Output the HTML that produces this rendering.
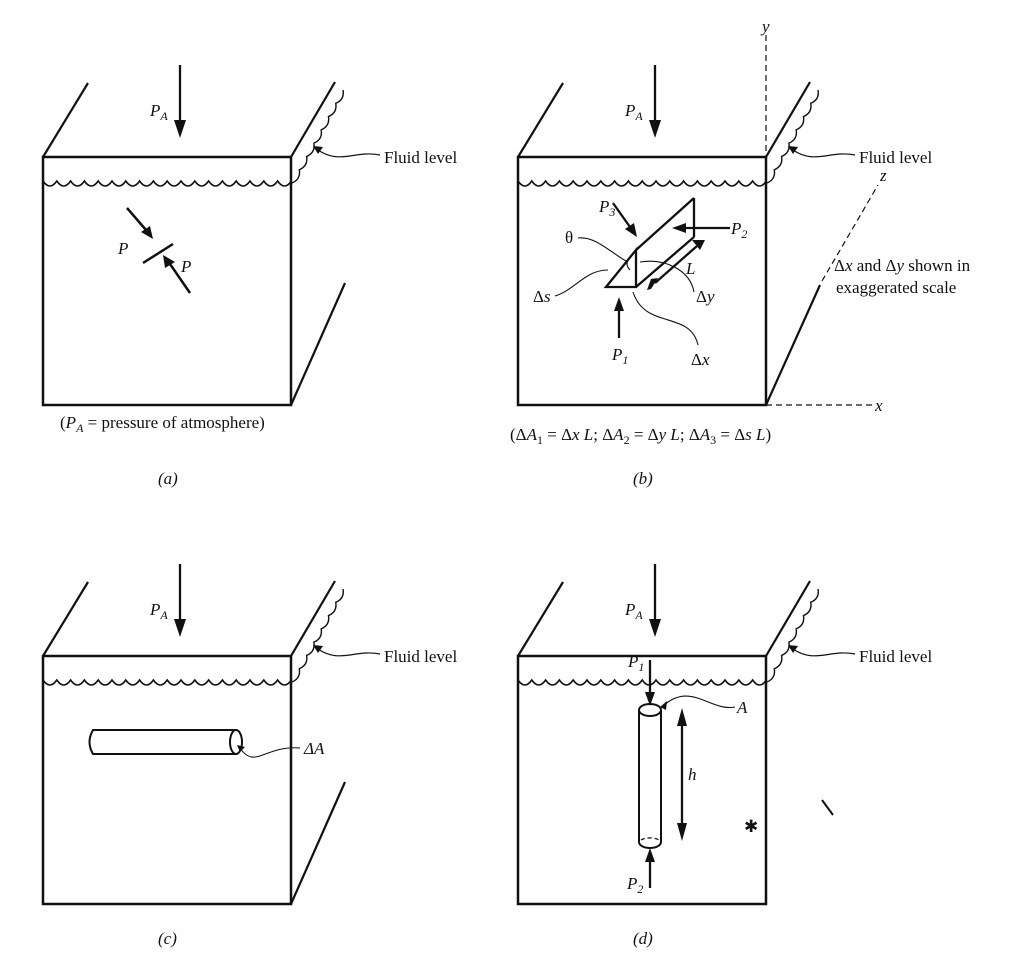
<!DOCTYPE html>
<html><head><meta charset="utf-8"><style>
html,body{margin:0;padding:0;background:#fff}
svg{display:block}
text{font-family:"Liberation Serif",serif;font-size:17px;fill:#111}
.i{font-style:italic}
</style></head><body>
<svg width="1023" height="963" viewBox="0 0 1023 963" xmlns="http://www.w3.org/2000/svg">
<defs>
<g id="box" fill="none" stroke="#111">
<rect x="43" y="157" width="248" height="248" stroke-width="2.5"/>
<line x1="43" y1="157" x2="88" y2="83" stroke-width="2.2"/>
<line x1="291" y1="157" x2="335" y2="82" stroke-width="2.2"/>
<path d="M43,181 q6.9,10 13.8,0 q6.9,10 13.8,0 q6.9,10 13.8,0 q6.9,10 13.8,0 q6.9,10 13.8,0 q6.9,10 13.8,0 q6.9,10 13.8,0 q6.9,10 13.8,0 q6.9,10 13.8,0 q6.9,10 13.8,0 q6.9,10 13.8,0 q6.9,10 13.8,0 q6.9,10 13.8,0 q6.9,10 13.8,0 q6.9,10 13.8,0 q6.9,10 13.8,0 q6.9,10 13.8,0 q6.9,10 13.8,0" stroke-width="1.6"/>
<path d="M292,183 q8.9,-3.7 7.29,-13.29 q8.9,-3.7 7.29,-13.29 q8.9,-3.7 7.29,-13.29 q8.9,-3.7 7.29,-13.29 q8.9,-3.7 7.29,-13.29 q8.9,-3.7 7.29,-13.29 q8.9,-3.7 7.29,-13.29" stroke-width="1.4"/>
<line x1="180" y1="65" x2="180" y2="124" stroke-width="2.3"/>
<path d="M174,120 L186,120 L180,138 Z" fill="#111" stroke="none"/>
<path d="M380,155 C355,150 340,165 318,150" stroke-width="1.2"/>
<path d="M313,146 L323,147 L318,154 Z" fill="#111" stroke="none"/>
</g>
<g id="lab">
<text x="150" y="116" class="i">P<tspan font-size="12" dy="4">A</tspan></text>
<text x="384" y="163">Fluid level</text>
</g>
</defs>

<!-- (a) -->
<use href="#box"/><use href="#lab"/>
<line x1="291" y1="405" x2="345" y2="283" stroke="#111" stroke-width="2.2"/>
<g stroke="#111" stroke-width="2.5" fill="none">
<line x1="143" y1="263" x2="173" y2="244"/>
<line x1="127" y1="208" x2="146" y2="230"/>
<line x1="190" y1="293" x2="170" y2="264"/>
</g>
<path d="M141,232 L150,226 L153,239 Z" fill="#111"/>
<path d="M165,268 L175,262 L163,255 Z" fill="#111"/>
<text x="118" y="254" class="i">P</text>
<text x="181" y="272" class="i">P</text>
<text x="60" y="428">(<tspan class="i">P</tspan><tspan font-size="12" dy="4" class="i">A</tspan><tspan dy="-4"> = pressure of atmosphere)</tspan></text>
<text x="158" y="484" class="i">(a)</text>

<!-- (b) -->
<g transform="translate(475,0)"><use href="#box"/><use href="#lab"/></g>
<line x1="766" y1="405" x2="820" y2="285" stroke="#111" stroke-width="2.2"/>
<g stroke="#111" stroke-width="1.2" stroke-dasharray="6,4" fill="none">
<line x1="766" y1="35" x2="766" y2="157"/>
<line x1="766" y1="405" x2="872" y2="405"/>
<line x1="822" y1="281" x2="878" y2="185"/>
</g>
<g stroke="#111" stroke-width="2.3" fill="none">
<path d="M606,287 L636,287 L636,250 Z"/>
<line x1="636" y1="250" x2="694" y2="198"/>
<line x1="636" y1="287" x2="694" y2="237"/>
<line x1="694" y1="198" x2="694" y2="237"/>
<line x1="613" y1="203" x2="630" y2="227"/>
<line x1="730" y1="228" x2="684" y2="228"/>
<line x1="697" y1="246" x2="655" y2="283"/>
<line x1="619" y1="338" x2="619" y2="310"/>
</g>
<g fill="#111">
<path d="M625,229 L634,223 L637,237 Z"/>
<path d="M686,223 L686,233 L672,228 Z"/>
<path d="M692,240 L700,250 L705,240 Z"/>
<path d="M658,278 L651,289 L647,290 L651,279 Z"/>
<path d="M614,311 L624,311 L619,297 Z"/>
</g>
<g stroke="#111" stroke-width="1.1" fill="none">
<path d="M578,238 C595,236 610,252 626,261"/>
<path d="M555,296 C575,290 585,270 608,270"/>
<path d="M694,292 C690,270 665,258 640,262"/>
<path d="M698,345 C690,310 645,330 633,292"/>
<path d="M630,258 Q624,264 630,270"/>
</g>
<text x="599" y="212" class="i">P<tspan font-size="12" dy="4">3</tspan></text>
<text x="731" y="234" class="i">P<tspan font-size="12" dy="4">2</tspan></text>
<text x="686" y="274" class="i">L</text>
<text x="565" y="243">θ</text>
<text x="533" y="302">Δ<tspan class="i">s</tspan></text>
<text x="696" y="302">Δ<tspan class="i">y</tspan></text>
<text x="691" y="365">Δ<tspan class="i">x</tspan></text>
<text x="612" y="360" class="i">P<tspan font-size="12" dy="4">1</tspan></text>
<text x="762" y="32" class="i">y</text>
<text x="880" y="181" class="i">z</text>
<text x="875" y="411" class="i">x</text>
<text x="834" y="271">Δ<tspan class="i">x</tspan> and Δ<tspan class="i">y</tspan> shown in</text>
<text x="836" y="293">exaggerated scale</text>
<text x="510" y="440">(Δ<tspan class="i">A</tspan><tspan font-size="12" dy="4">1</tspan><tspan dy="-4"> = Δ</tspan><tspan class="i">x L</tspan>; Δ<tspan class="i">A</tspan><tspan font-size="12" dy="4">2</tspan><tspan dy="-4"> = Δ</tspan><tspan class="i">y L</tspan>; Δ<tspan class="i">A</tspan><tspan font-size="12" dy="4">3</tspan><tspan dy="-4"> = Δ</tspan><tspan class="i">s L</tspan>)</text>
<text x="633" y="484" class="i">(b)</text>

<!-- (c) -->
<g transform="translate(0,499)"><use href="#box"/><use href="#lab"/></g>
<line x1="291" y1="904" x2="345" y2="782" stroke="#111" stroke-width="2.2"/>
<g stroke="#111" stroke-width="2" fill="none">
<path d="M236,730 L93,730 Q86,742 93,754 L236,754"/>
<ellipse cx="236" cy="742" rx="6" ry="12"/>
<path d="M240,748 C255,770 265,745 300,748" stroke-width="1.1"/>
</g>
<path d="M237,745 L245,747 L240,752 Z" fill="#111"/>
<text x="304" y="754" class="i">ΔA</text>
<text x="158" y="944" class="i">(c)</text>

<!-- (d) -->
<g transform="translate(475,499)"><use href="#box"/><use href="#lab"/></g>
<line x1="822" y1="800" x2="833" y2="815" stroke="#111" stroke-width="2"/>
<g stroke="#111" stroke-width="2" fill="none">
<path d="M639,710 L639,842 M661,710 L661,842"/>
<ellipse cx="650" cy="710" rx="11" ry="6"/>
<path d="M639,842 A11,6 0 0 0 661,842"/>
<path d="M641,840 A11,5 0 0 1 659,840" stroke-dasharray="4,3" stroke-width="1.2"/>
<line x1="650" y1="660" x2="650" y2="694" stroke-width="2.3"/>
<line x1="682" y1="724" x2="682" y2="826" stroke-width="2.3"/>
<line x1="650" y1="888" x2="650" y2="862" stroke-width="2.3"/>
<path d="M662,707 C690,680 710,712 735,707" stroke-width="1.1"/>
</g>
<g fill="#111">
<path d="M645,692 L655,692 L650,706 Z"/>
<path d="M677,726 L687,726 L682,708 Z"/>
<path d="M677,823 L687,823 L682,841 Z"/>
<path d="M645,862 L655,862 L650,848 Z"/>
<path d="M660,707 L667,701 L666,710 Z"/>
</g>
<text x="628" y="667" class="i">P<tspan font-size="12" dy="4">1</tspan></text>
<text x="737" y="713" class="i">A</text>
<text x="688" y="780" class="i">h</text>
<text x="627" y="889" class="i">P<tspan font-size="12" dy="4">2</tspan></text>
<text x="744" y="832" font-size="12">✱</text>
<text x="633" y="944" class="i">(d)</text>
</svg>
</body></html>
